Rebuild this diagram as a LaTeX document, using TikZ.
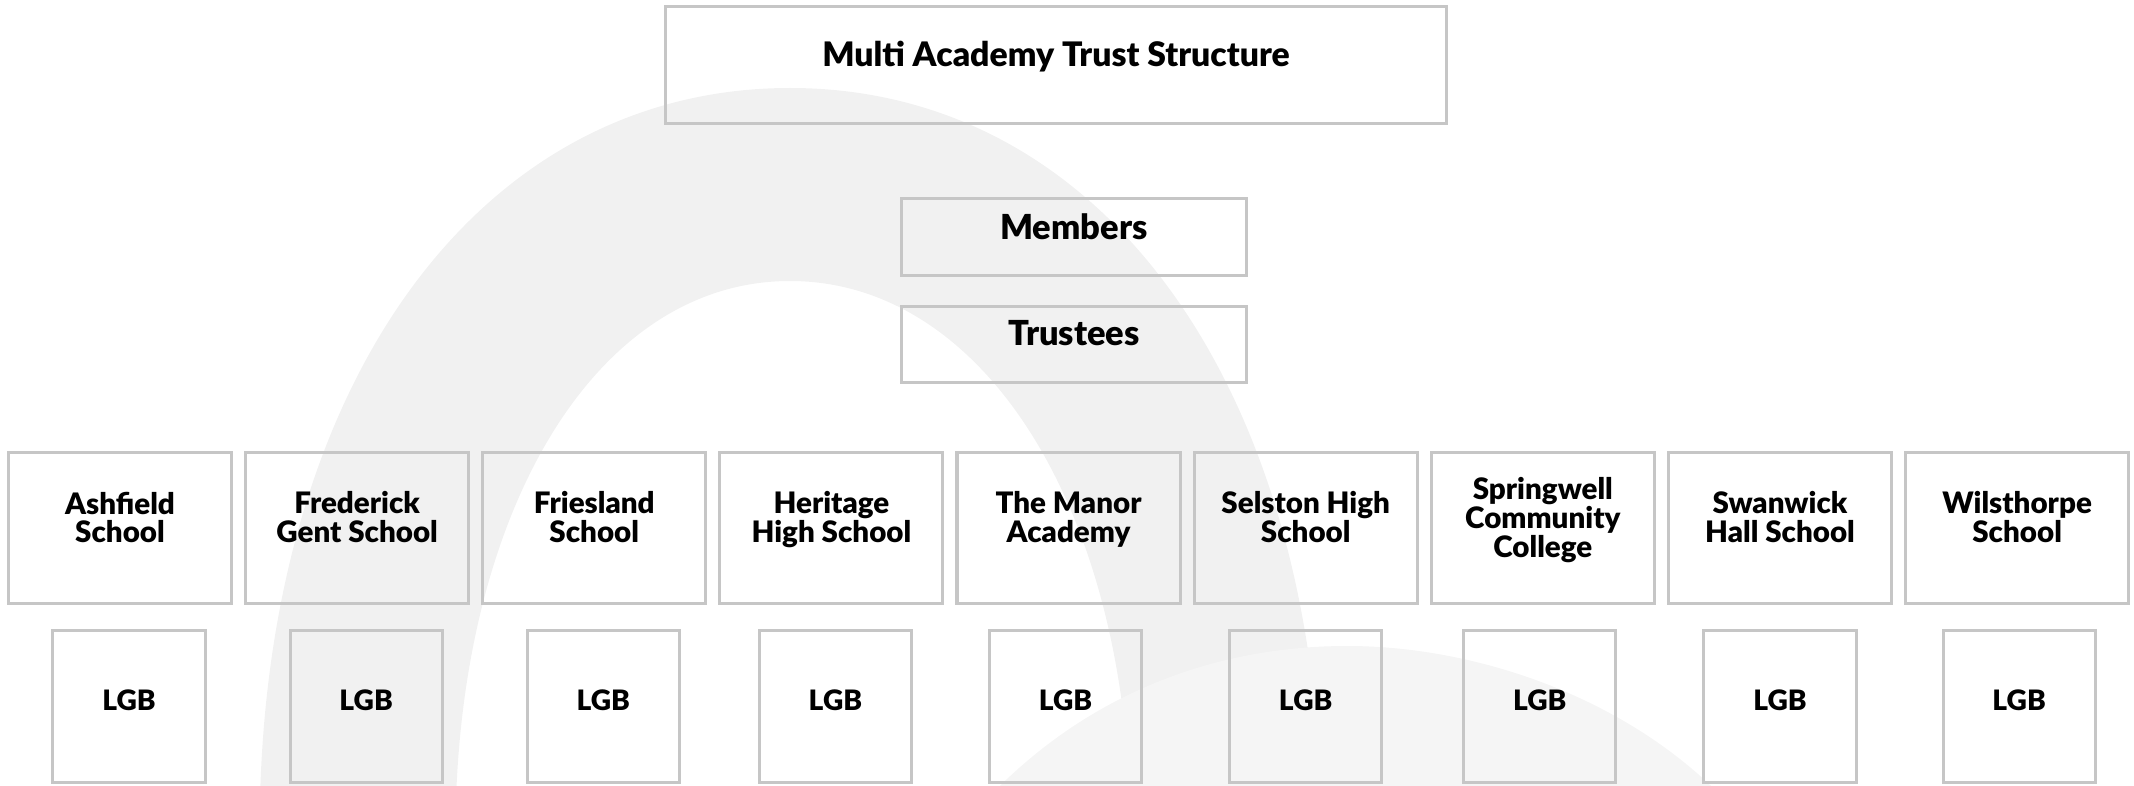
\documentclass[tikz,border=0pt]{standalone}
\usepackage{fontspec}
\setmainfont{Lato}[BoldFont={Lato Black}]
\usetikzlibrary{positioning}
\definecolor{boxgray}{HTML}{C6C6C6}
\definecolor{ringgray}{HTML}{F1F1F1}
\definecolor{arcgray}{HTML}{F5F5F5}

\begin{document}
\begin{tikzpicture}[x=0.01cm, y=-0.01cm,
	box/.style={draw=boxgray, line width=0.03cm, inner sep=0pt, outer sep=0pt},
	titlebox/.style={box, minimum width=7.81cm, minimum height=1.16cm},
	govbox/.style={box, minimum width=3.44cm, minimum height=0.76cm},
	school/.style={box, minimum width=2.23cm, minimum height=1.51cm},
	lgb/.style={box, minimum width=1.52cm, minimum height=1.52cm},
	titletext/.style={font=\bfseries\fontsize{9.6}{9.6}\selectfont, yshift=0.085cm},
	govtext/.style={font=\bfseries\fontsize{9.8}{9.8}\selectfont, yshift=0.105cm},
	schooltext/.style={font=\bfseries\fontsize{8.4}{8.2}\selectfont, align=center, text depth=0.25em, yshift=0.063cm},
	lgbtext/.style={font=\bfseries\fontsize{8}{8}\selectfont, yshift=0.065cm},
	]

	\useasboundingbox (0,0) rectangle (2134,785);
	\begin{scope}
		\clip (0,0) rectangle (2134,785);
		\fill[ringgray, even odd rule]
			(260,800) .. controls (270,380) and (480,88) .. (790,88)
			.. controls (1100,88) and (1310,380) .. (1321,800) -- cycle
			(456,800) .. controls (466,500) and (600,281) .. (790,281)
			.. controls (980,281) and (1120,500) .. (1130,800) -- cycle;
		\fill[arcgray] (986,800) .. controls (1090,690) and (1220,646) .. (1347,646)
			.. controls (1480,646) and (1630,700) .. (1725,800) -- cycle;
	\end{scope}

	\node[titlebox, label={[titletext]center:Multi Academy Trust Structure}] (trust) at (1056,65) {};
	\node[govbox, label={[govtext]center:Members}] (members) at (1074,237) {};
	\node[govbox, below=0.31cm of members, label={[govtext]center:Trustees}] (trustees) {};

	\node[school, label={[schooltext]center:{Ashfield\\School}}] (school1) at (120,528) {};
	\node[school, right=0.14cm of school1, label={[schooltext]center:{Frederick\\Gent School}}] (school2) {};
	\node[school, right=0.14cm of school2, label={[schooltext]center:{Friesland\\School}}] (school3) {};
	\node[school, right=0.14cm of school3, label={[schooltext]center:{Heritage\\High School}}] (school4) {};
	\node[school, right=0.14cm of school4, label={[schooltext]center:{The Manor\\Academy}}] (school5) {};
	\node[school, right=0.14cm of school5, label={[schooltext]center:{Selston High\\School}}] (school6) {};
	\node[school, right=0.14cm of school6, label={[schooltext]center:{Springwell\\Community\\College}}] (school7) {};
	\node[school, right=0.14cm of school7, label={[schooltext]center:{Swanwick\\Hall School}}] (school8) {};
	\node[school, right=0.14cm of school8, label={[schooltext]center:{Wilsthorpe\\School}}] (school9) {};

	\node[lgb, below=0.27cm of school1, xshift=0.09cm, label={[lgbtext]center:LGB}] (lgb1) {};
	\node[lgb, below=0.27cm of school2, xshift=0.09cm, label={[lgbtext]center:LGB}] (lgb2) {};
	\node[lgb, below=0.27cm of school3, xshift=0.09cm, label={[lgbtext]center:LGB}] (lgb3) {};
	\node[lgb, below=0.27cm of school4, xshift=0.04cm, label={[lgbtext]center:LGB}] (lgb4) {};
	\node[lgb, below=0.27cm of school5, xshift=-0.03cm, label={[lgbtext]center:LGB}] (lgb5) {};
	\node[lgb, below=0.27cm of school6, label={[lgbtext]center:LGB}] (lgb6) {};
	\node[lgb, below=0.27cm of school7, xshift=-0.03cm, label={[lgbtext]center:LGB}] (lgb7) {};
	\node[lgb, below=0.27cm of school8, label={[lgbtext]center:LGB}] (lgb8) {};
	\node[lgb, below=0.27cm of school9, xshift=0.02cm, label={[lgbtext]center:LGB}] (lgb9) {};

\end{tikzpicture}
\end{document}
